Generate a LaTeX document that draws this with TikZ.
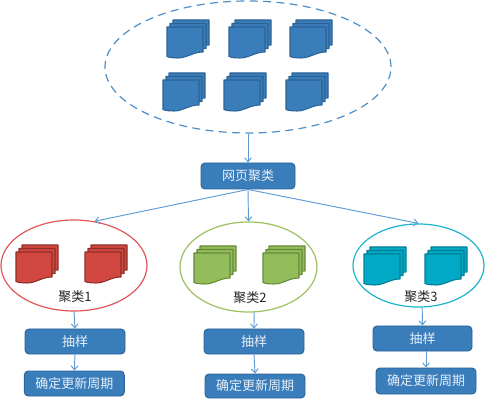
\documentclass[tikz,border=0pt]{standalone}
\usepackage{fontspec}
\setmainfont{Liberation Serif}
\newfontfamily\cjk{Noto Sans CJK SC}
\usetikzlibrary{shapes.geometric,arrows.meta}
\definecolor{boxfill}{HTML}{3A7DBB}
\definecolor{boxline}{HTML}{2B6396}
\definecolor{linkc}{HTML}{5B9BD5}
\definecolor{redf}{HTML}{D2473F}
\definecolor{redl}{HTML}{8E2F2B}
\definecolor{redr}{HTML}{E0565A}
\definecolor{grnf}{HTML}{93BC5B}
\definecolor{grnl}{HTML}{658A38}
\definecolor{grnr}{HTML}{9DC163}
\definecolor{teaf}{HTML}{00A9C6}
\definecolor{teal2}{HTML}{007F96}
\definecolor{tear}{HTML}{1FB4CE}
\definecolor{dashc}{HTML}{4F8FC8}
\newcommand{\onesheet}[2]{%
  \path[sheet,shift={(#1,#2)}] (0,0) -- (36,0) -- (36,25)
    .. controls (26,25) and (20,31) .. (11,31)
    .. controls (6,31) and (2,30.5) .. (0,29.5) -- cycle;}
\newcommand{\docstack}[2]{%
  \onesheet{#1+6}{#2-7}\onesheet{#1+3}{#2-3.5}\onesheet{#1}{#2}}
\tikzset{
  x=0.75pt,y=-0.75pt,
  sheet/.style={draw=docline,fill=docfill,line width=0.8pt,line join=round},
  flow/.style={rounded corners=3pt,draw=boxline,fill=boxfill,line width=0.7pt,
    text=white!88!boxfill,inner sep=0pt,font=\cjk\fontsize{9.75pt}{11pt}\selectfont},
  ring/.style={ellipse,draw,inner sep=0pt,fill=none},
  tag/.style={inner sep=0pt,text=black!85,font=\cjk\fontsize{9.75pt}{11pt}\selectfont},
  link/.style={draw=linkc,line width=0.7pt,-{Straight Barb[length=3pt,width=5pt]}},
}
\begin{document}
\begin{tikzpicture}
\useasboundingbox (0,0) rectangle (485,402);
\fill[white] (0,0) rectangle (485,402);

\colorlet{docfill}{boxfill}\colorlet{docline}{boxline}
\docstack{167}{27}\docstack{229}{27}\docstack{290}{27}
\docstack{163}{80}\docstack{224}{80}\docstack{286}{80}
\colorlet{docfill}{redf}\colorlet{docline}{redl}
\docstack{16}{252}\docstack{85}{252}
\colorlet{docfill}{grnf}\colorlet{docline}{grnl}
\docstack{194}{253}\docstack{263}{253}
\colorlet{docfill}{teaf}\colorlet{docline}{teal2}
\docstack{364}{254}\docstack{425}{254}

\node[ring,draw=dashc,dash pattern=on 6pt off 4pt,line width=0.9pt,minimum width=286*0.75pt,minimum height=132*0.75pt] (pool) at (248,67) {};
\node[ring,draw=redr,line width=0.9pt,minimum width=146*0.75pt,minimum height=91*0.75pt] (r1) at (74,265.5) {};
\node[ring,draw=grnr,line width=0.9pt,minimum width=137*0.75pt,minimum height=90*0.75pt] (r2) at (248.5,267) {};
\node[ring,draw=tear,line width=0.9pt,minimum width=131*0.75pt,minimum height=83*0.75pt] (r3) at (418.5,265.5) {};

\node[tag] (t1) at (75,297) {聚类1};
\node[tag] (t2) at (250,298) {聚类2};
\node[tag] (t3) at (421,297) {聚类3};

\node[flow,minimum width=94*0.75pt,minimum height=26*0.75pt] (top) at (248,176) {网页聚类};
\node[flow,minimum width=100*0.75pt,minimum height=25*0.75pt] (a1) at (75,341.5) {抽样};
\node[flow,minimum width=100*0.75pt,minimum height=25*0.75pt] (b1) at (74.3,383.5) {确定更新周期};
\node[flow,minimum width=100*0.75pt,minimum height=25*0.75pt] (a2) at (254,341.5) {抽样};
\node[flow,minimum width=100*0.75pt,minimum height=24*0.75pt] (b2) at (255,386) {确定更新周期};
\node[flow,minimum width=99*0.75pt,minimum height=25*0.75pt] (a3) at (422.5,338.5) {抽样};
\node[flow,minimum width=100*0.75pt,minimum height=26*0.75pt] (b3) at (426,381) {确定更新周期};

\draw[link] (pool.south) -- (top.north);
\draw[link] (top.south) -- (r1.65);
\draw[link] (top.south) -- (r2.north);
\draw[link] (top.south) -- (r3.north);
\draw[link] (r1.south) -- (a1.north);
\draw[link] (r2.-83) -- (a2.north);
\draw[link] (r3.-85) -- (a3.north);
\draw[link] (a1.south) -- (b1.north);
\draw[link] (a2.south) -- (b2.north);
\draw[link] (a3.south -| b3.north) -- (b3.north);
\end{tikzpicture}
\end{document}
